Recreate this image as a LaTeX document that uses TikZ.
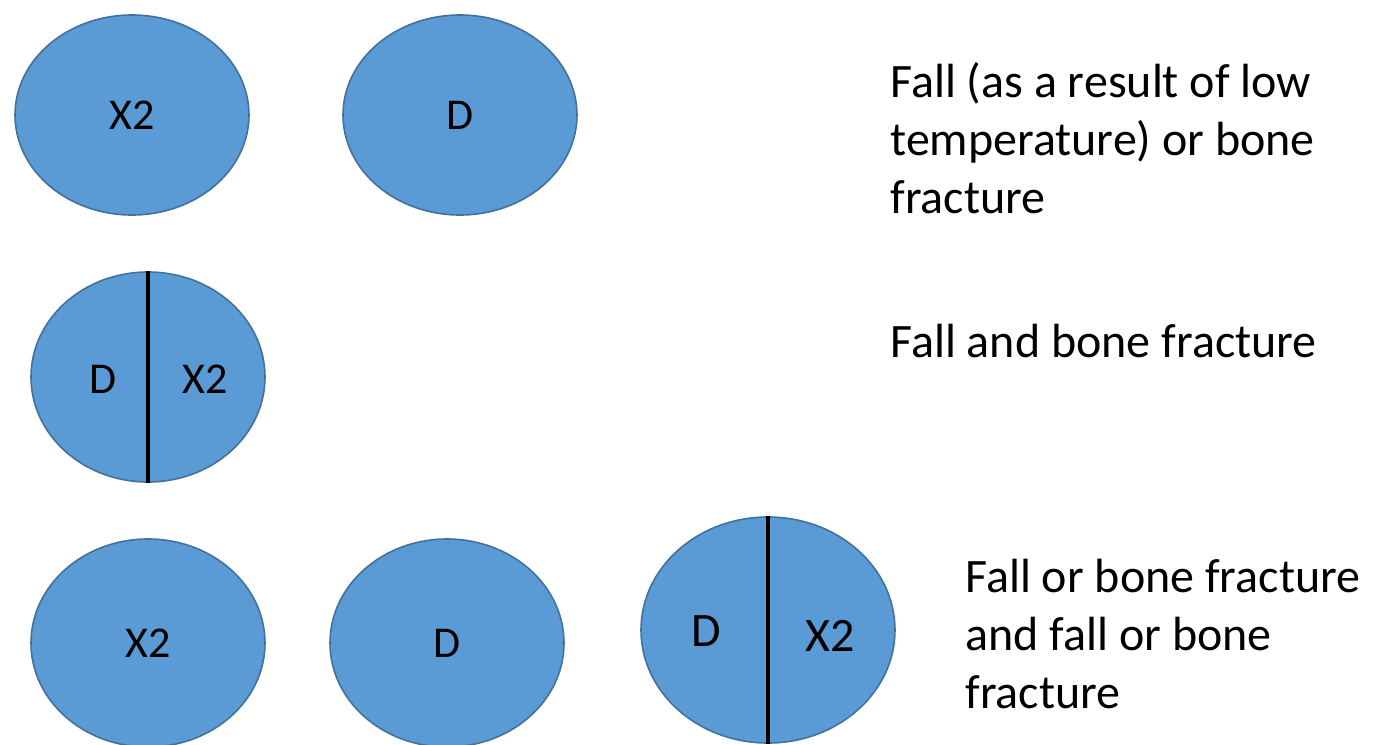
\documentclass[tikz,border=0pt]{standalone}
\usepackage{fontspec}
\setmainfont{Carlito}
\usepackage{xcolor}
\usetikzlibrary{shapes.geometric}
\definecolor{ovalblue}{HTML}{5B9BD5}
\definecolor{ovaledge}{HTML}{41719C}

\begin{document}
\begin{tikzpicture}[x=0.5pt,y=-0.5pt,
  oval/.style={ellipse,draw=ovaledge,fill=ovalblue,line width=0.8pt,inner sep=0pt,minimum width=117pt,minimum height=100pt,font=\fontsize{22}{26}\selectfont},
  lbl/.style={font=\fontsize{22}{26}\selectfont,inner sep=0pt},
  note/.style={anchor=north west,align=left,inner sep=0pt,font=\fontsize{24}{29}\selectfont}]
\useasboundingbox (0,0) rectangle (1389,745);
\node[oval] (x2a) at (132,115) {X2};
\node[oval] (da) at (460,115) {D};
\node[oval,minimum height=105pt] (both) at (148,377) {};
\draw[line width=1.6pt] (both.north) -- (both.south);
\node[lbl] (bothd) at (103,379) {D};
\node[lbl] (bothx) at (205,379) {X2};
\node[oval,minimum height=104pt] (x2b) at (148,643) {X2};
\node[oval,minimum height=104pt] (db) at (447,643) {D};
\node[oval,minimum width=127pt,minimum height=113pt] (pair) at (768,630) {};
\draw[line width=1.6pt] (pair.north) -- (pair.south);
\node[lbl,font=\fontsize{24}{28}\selectfont] (paird) at (706,631) {D};
\node[lbl,font=\fontsize{24}{28}\selectfont] (pairx) at (830,636) {X2};
\node[note] (t1) at (890,62) {Fall (as a result of low\\temperature) or bone\\fracture};
\node[note] (t2) at (890,324) {Fall and bone fracture};
\node[note] (t3) at (965,559) {Fall or bone fracture\\and fall or bone\\fracture};
\end{tikzpicture}
\end{document}
